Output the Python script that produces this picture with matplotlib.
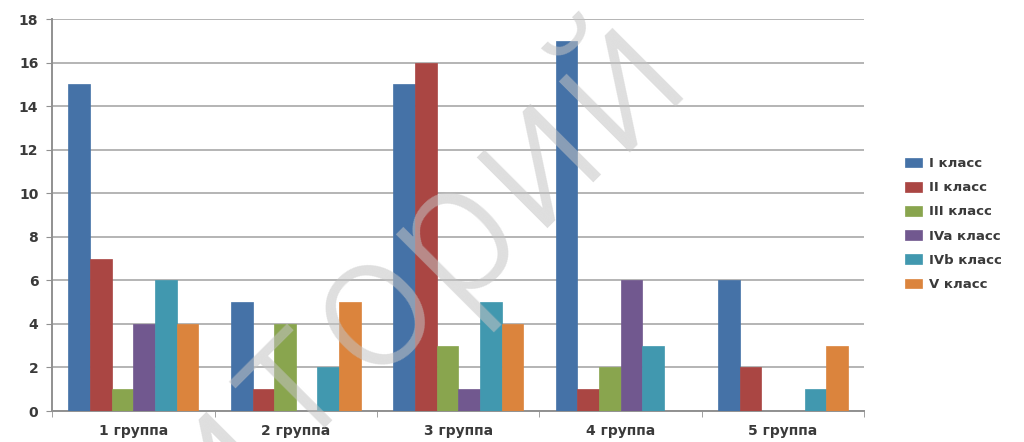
import numpy as np
import matplotlib
matplotlib.use('Agg')
import matplotlib.pyplot as plt

groups = ['1 группа', '2 группа', '3 группа', '4 группа', '5 группа']
series = ['I класс', 'II класс', 'III класс', 'IVa класс', 'IVb класс', 'V класс']
class_1 = [15, 5, 15, 17, 6]
class_2 = [7, 1, 16, 1, 2]
class_3 = [1, 4, 3, 2, 0]
class_4a = [4, 0, 1, 6, 0]
class_4b = [6, 2, 5, 3, 1]
class_5 = [4, 5, 4, 0, 3]
colors = ['#4572A7', '#AA4643', '#89A54E', '#71588F', '#4198AF', '#DB843D']
watermark = 'иторий'

values = [class_1, class_2, class_3, class_4a, class_4b, class_5]

fig = plt.figure(figsize=(10.24, 4.42), dpi=100)
ax = fig.add_axes([0.051, 0.070, 0.793, 0.887])

x = np.arange(len(groups))
width = 0.8 / len(series)
for i, (name, vals) in enumerate(zip(series, values)):
    ax.bar(x - 0.4 + width * (i + 0.5), vals, width, label=name, color=colors[i],
           edgecolor=colors[i], linewidth=0.5, zorder=3)

ax.set_xlim(-0.5, len(groups) - 0.5)
ax.set_ylim(0, 18)
ax.set_yticks(range(0, 19, 2))
ax.yaxis.grid(True, color='#b4b4b4', linewidth=1.4, zorder=0)
ax.set_axisbelow(True)

ax.set_xticks(x)
ax.set_xticklabels(groups)
ax.set_xticks(np.arange(-0.5, len(groups)), minor=True)
ax.tick_params(axis='x', which='major', length=0, pad=9)
ax.tick_params(axis='x', which='minor', length=4, color='#909090', direction='out')
ax.tick_params(axis='y', length=4, color='#909090', pad=6)
for lab in ax.get_xticklabels() + ax.get_yticklabels():
    lab.set_fontsize(10)
    lab.set_fontweight('bold')
    lab.set_color('#3a3a3a')

for side in ['top', 'right']:
    ax.spines[side].set_visible(False)
for side in ['left', 'bottom']:
    ax.spines[side].set_color('#909090')
    ax.spines[side].set_linewidth(1.4)

leg = fig.legend(loc='center left', bbox_to_anchor=(0.872, 0.493), frameon=False,
                 fontsize=9.5, labelspacing=0.85, handlelength=1.3, handleheight=0.75,
                 handletextpad=0.5)
for t in leg.get_texts():
    t.set_color('#3a3a3a')
    t.set_fontweight('bold')

# watermark letters laid along a diagonal (pixel coords from top-left)
x0, y0 = 210, 462
dx, dy = 81, -77
for k, ch in enumerate(watermark):
    px, py = x0 + k * dx, y0 + k * dy
    fig.text(px / 1024, 1 - py / 442, ch, fontsize=136, family=['Roboto', 'DejaVu Sans'],
             fontweight=300, rotation=45, rotation_mode='anchor', ha='center',
             va='center', color='#c4c4c4', alpha=0.55, zorder=10)

fig.savefig('out.png', dpi=100)
